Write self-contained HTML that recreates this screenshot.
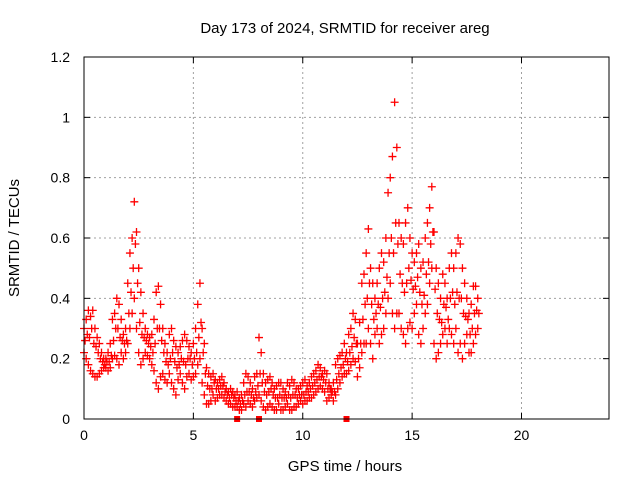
<!DOCTYPE html>
<html><head><meta charset="utf-8">
<style>
body{margin:0;background:#fff;}
svg{display:block;font-family:"Liberation Sans",sans-serif;}
</style></head>
<body>
<svg id="chart" width="640" height="480" viewBox="0 0 640 480">
<rect width="640" height="480" fill="#fff"/>
<text x="345" y="33" font-size="15" text-anchor="middle">Day 173 of 2024, SRMTID for receiver areg</text>
<text x="345" y="471" font-size="15" text-anchor="middle">GPS time / hours</text>
<text transform="translate(19,238) rotate(-90)" font-size="15" text-anchor="middle">SRMTID / TECUs</text>
<g id="grid"></g>
<g id="marks"></g>
<rect x="84" y="57" width="525" height="362" fill="none" stroke="#000" stroke-width="1"/>
</svg>
<script>
const xTicks=[0,5,10,15,20];
const yTicks=[0,0.2,0.4,0.6,0.8,1,1.2];
const yTickLabels=["0","0.2","0.4","0.6","0.8","1","1.2"];
const startHour=0, stepHour=0.1;
const srmtidHigh=[.30,.33,.36,.34,.36,.30,.27,.25,.22,.20,
.20,.22,.25,.33,.35,.40,.38,.33,.28,.30,
.45,.55,.60,.72,.62,.50,.42,.35,.30,.28,
.27,.28,.33,.42,.44,.38,.30,.25,.22,.28,
.30,.26,.24,.22,.24,.26,.28,.26,.24,.22,
.25,.30,.38,.45,.30,.25,.17,.15,.14,.15,
.13,.12,.13,.14,.12,.10,.09,.10,.09,.08,
.09,.07,.08,.12,.15,.14,.12,.10,.14,.15,
.27,.22,.15,.12,.13,.14,.12,.10,.11,.12,
.12,.10,.09,.12,.11,.13,.12,.10,.10,.11,
.12,.13,.11,.12,.14,.15,.16,.18,.17,.15,
.16,.15,.12,.10,.12,.18,.20,.21,.22,.25,
.22,.28,.30,.35,.33,.25,.32,.45,.48,.55,
.63,.50,.45,.40,.45,.50,.55,.52,.60,.75,
.80,.87,1.05,.90,.65,.60,.58,.65,.70,.60,
.55,.52,.55,.58,.50,.52,.60,.65,.70,.77,
.62,.50,.45,.40,.48,.45,.40,.50,.55,.50,
.55,.60,.58,.50,.45,.40,.35,.38,.44,.44,.40];
const srmtidMid=[.26,.28,.27,.30,.25,.24,.22,.20,.19,.18,
.19,.19,.21,.26,.30,.30,.27,.26,.25,.26,
.35,.42,.50,.58,.45,.32,.28,.27,.26,.25,
.24,.22,.25,.30,.30,.26,.22,.19,.18,.20,
.22,.19,.17,.18,.20,.19,.18,.20,.20,.18,
.20,.22,.27,.32,.22,.15,.11,.10,.10,.12,
.10,.10,.11,.11,.09,.08,.07,.08,.07,.06,
.06,.05,.06,.08,.09,.09,.08,.07,.09,.11,
.15,.12,.09,.08,.09,.10,.08,.07,.07,.08,
.07,.07,.07,.08,.07,.08,.08,.07,.08,.08,
.08,.09,.09,.10,.11,.12,.13,.14,.14,.13,
.12,.10,.10,.09,.09,.13,.15,.17,.18,.20,
.19,.22,.24,.27,.25,.20,.25,.33,.38,.40,
.45,.38,.33,.35,.38,.37,.40,.42,.47,.55,
.60,.55,.65,.58,.48,.45,.42,.45,.50,.46,
.43,.44,.47,.42,.38,.41,.48,.52,.58,.62,
.43,.35,.33,.32,.38,.37,.33,.40,.42,.38,
.42,.40,.40,.35,.34,.33,.28,.30,.35,.36,.35];
const srmtidLow=[.22,.20,.18,.16,.15,.14,.14,.15,.16,.17,
.17,.16,.17,.20,.21,.20,.18,.22,.20,.22,
.25,.30,.35,.40,.30,.22,.18,.20,.22,.21,
.20,.18,.16,.12,.10,.14,.15,.13,.12,.15,
.12,.10,.08,.13,.15,.12,.10,.14,.15,.13,
.14,.15,.18,.20,.12,.08,.05,.05,.06,.08,
.06,.07,.08,.08,.07,.06,.05,.05,.04,.04,
.04,.03,.03,.05,.04,.06,.05,.04,.06,.07,
.08,.06,.04,.03,.04,.05,.04,.03,.03,.05,
.03,.03,.04,.05,.03,.03,.04,.04,.05,.06,
.05,.06,.06,.07,.07,.08,.09,.10,.11,.10,
.09,.06,.07,.08,.06,.08,.10,.12,.14,.15,
.15,.16,.18,.20,.19,.14,.17,.22,.25,.25,
.30,.25,.20,.28,.30,.25,.28,.30,.35,.40,
.45,.35,.30,.35,.35,.30,.28,.25,.30,.32,
.30,.35,.38,.28,.25,.30,.35,.38,.45,.50,
.25,.20,.22,.25,.28,.30,.25,.30,.28,.25,
.30,.22,.25,.20,.25,.28,.22,.22,.25,.28,.30];
const flagHours=[7,8,12];

const X0=84,X1=609,Y0=419,Y1=57;
const xs=h=>X0+(h/24)*(X1-X0);
const ys=v=>Y0-(v/1.2)*(Y0-Y1);
const NS="http://www.w3.org/2000/svg";
const grid=document.getElementById('grid'), marks=document.getElementById('marks');
function mk(tag,attrs,parent){const e=document.createElementNS(NS,tag);for(const k in attrs)e.setAttribute(k,attrs[k]);parent.appendChild(e);return e;}
xTicks.forEach(t=>{
  const x=xs(t);
  if(t>0){const g=mk('line',{x1:x,y1:Y0,x2:x,y2:Y1,stroke:'#a0a0a0','stroke-dasharray':'2,3'},grid);
  
  }
  mk('line',{x1:x,y1:Y0,x2:x,y2:Y0-6,stroke:'#000'},grid);
  mk('line',{x1:x,y1:Y1,x2:x,y2:Y1+6,stroke:'#000'},grid);
  const l=mk('text',{x:x,y:Y0+21,'font-size':14,'text-anchor':'middle'},grid);
  l.textContent=t;
  
  
});
yTicks.forEach((t,i)=>{
  const y=ys(t);
  if(t>0&&t<1.2){const g=mk('line',{x1:X0,y1:y,x2:X1,y2:y,stroke:'#a0a0a0','stroke-dasharray':'2,3'},grid);
  
  }
  mk('line',{x1:X0,y1:y,x2:X0+6,y2:y,stroke:'#000'},grid);
  mk('line',{x1:X1,y1:y,x2:X1-6,y2:y,stroke:'#000'},grid);
  const l=mk('text',{x:X0-14,y:y+5,'font-size':14,'text-anchor':'end'},grid);
  l.textContent=yTickLabels[i];
  
  
});
function plus(h,v,name){
  const x=xs(h),y=ys(v);
  const p=mk('path',{d:`M${x-4},${y}H${x+4}M${x},${y-4}V${y+4}`,stroke:'#f00','stroke-width':1.3,fill:'none'},marks);
  
  
}
srmtidHigh.forEach((v,i)=>plus(startHour+i*stepHour,v,'srmtid-point'));
srmtidMid.forEach((v,i)=>plus(startHour+i*stepHour+0.05,v,'srmtid-point'));
srmtidLow.forEach((v,i)=>plus(startHour+i*stepHour,v,'srmtid-point'));
flagHours.forEach(h=>{
  const r=mk('rect',{x:xs(h)-3,y:Y0-3,width:6,height:6,fill:'#f00'},marks);
  
  
});
</script>
</body></html>
